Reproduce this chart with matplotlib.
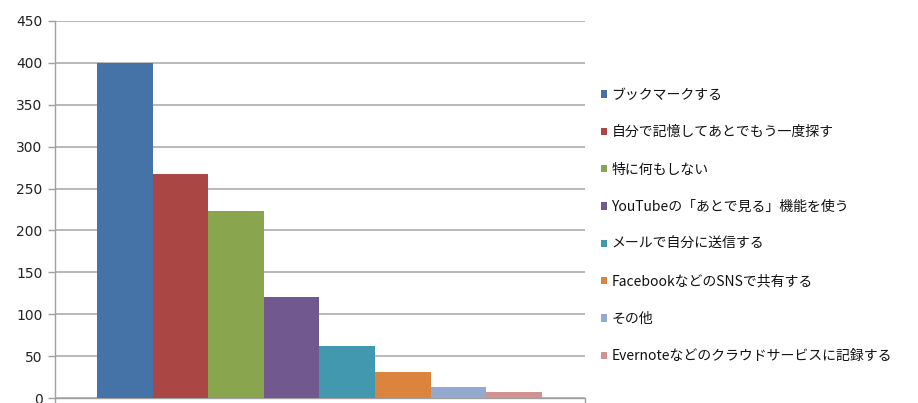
import matplotlib
matplotlib.use("Agg")
import matplotlib.pyplot as plt

# answers to "what do you do with a video you want to watch later"
labels = [
    "ブックマークする",
    "自分で記憶してあとでもう一度探す",
    "特に何もしない",
    "YouTubeの「あとで見る」機能を使う",
    "メールで自分に送信する",
    "FacebookなどのSNSで共有する",
    "その他",
    "Evernoteなどのクラウドサービスに記録する",
]
counts = [400, 267, 223, 120, 62, 31, 13, 7]
colors = ["#4572A7", "#AA4643", "#89A54E", "#71588F",
          "#4198AF", "#DB843D", "#93A9CF", "#D19392"]
yticks = [0, 50, 100, 150, 200, 250, 300, 350, 400, 450]

plt.rcParams['font.family'] = ['Noto Sans CJK JP', 'DejaVu Sans']

W, H = 918, 403
fig = plt.figure(figsize=(W / 100, H / 100), dpi=100)
ax = fig.add_axes([55 / W, 5 / H, 530 / W, 377 / H])

bars = []
for i, (lab, val, col) in enumerate(zip(labels, counts, colors)):
    b = ax.bar(i, val, width=1.0, color=col, label=lab, zorder=3)
    bars.append(b)

left_pad = 42 / 55.6
right_pad = 43 / 55.6
ax.set_xlim(-0.5 - left_pad, len(counts) - 0.5 + right_pad)
ax.set_ylim(0, 450)

ax.set_yticks(yticks)
ax.set_yticklabels([str(t) for t in yticks], family='DejaVu Sans',
                   fontsize=10, color='#222222')
ax.set_xticks(ax.get_xlim())
ax.set_xticklabels([])
ax.tick_params(axis='y', length=5, width=1, color='#a0a0a0', pad=4)
ax.tick_params(axis='x', length=4, width=1, color='#a0a0a0')

ax.yaxis.grid(True, color='#a6a6a6', linewidth=1.1, zorder=0)
ax.set_axisbelow(True)
for side in ('top', 'right'):
    ax.spines[side].set_visible(False)
for side in ('left', 'bottom'):
    ax.spines[side].set_color('#a0a0a0')
    ax.spines[side].set_linewidth(1)

fig.legend(handles=bars, labels=labels, loc='upper left',
           bbox_to_anchor=(594 / W, 1 - 81 / H), frameon=False,
           fontsize=10, handlelength=0.45, handleheight=0.45,
           handletextpad=0.3, labelspacing=1.68, borderpad=0,
           labelcolor='#111111')

fig.savefig("out.png", dpi=100)
